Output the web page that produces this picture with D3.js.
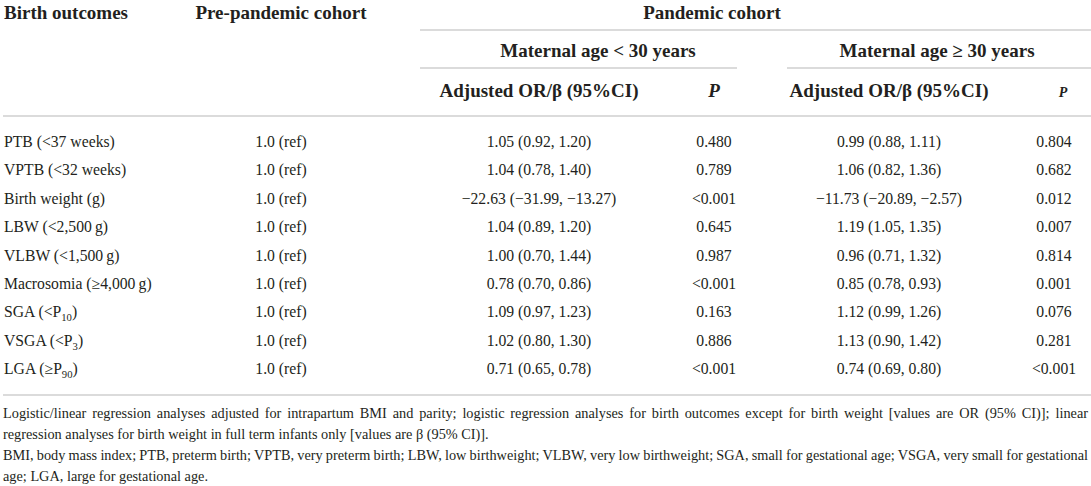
<!DOCTYPE html>
<html>
<head>
<meta charset="utf-8">
<script src="https://cdn.jsdelivr.net/npm/d3@7"></script>
<style>
  body { margin: 0; background: #fff; }
  svg text { font-family: "Liberation Serif", "DejaVu Serif", serif; fill: #231f20; }
</style>
</head>
<body>
<div id="table"></div>
<script>
// table content
const outcomes = [
  "PTB (<37 weeks)", "VPTB (<32 weeks)", "Birth weight (g)",
  "LBW (<2,500\u2009g)", "VLBW (<1,500\u2009g)", "Macrosomia (\u22654,000\u2009g)",
  "SGA (<P_10)", "VSGA (<P_3)", "LGA (\u2265P_90)"
];
const prePandemic = ["1.0 (ref)", "1.0 (ref)", "1.0 (ref)", "1.0 (ref)", "1.0 (ref)",
  "1.0 (ref)", "1.0 (ref)", "1.0 (ref)", "1.0 (ref)"];
const youngEstimate = [
  "1.05 (0.92, 1.20)", "1.04 (0.78, 1.40)", "\u221222.63 (\u221231.99, \u221213.27)",
  "1.04 (0.89, 1.20)", "1.00 (0.70, 1.44)", "0.78 (0.70, 0.86)",
  "1.09 (0.97, 1.23)", "1.02 (0.80, 1.30)", "0.71 (0.65, 0.78)"
];
const youngP = ["0.480", "0.789", "<0.001", "0.645", "0.987", "<0.001", "0.163", "0.886", "<0.001"];
const olderEstimate = [
  "0.99 (0.88, 1.11)", "1.06 (0.82, 1.36)", "\u221211.73 (\u221220.89, \u22122.57)",
  "1.19 (1.05, 1.35)", "0.96 (0.71, 1.32)", "0.85 (0.78, 0.93)",
  "1.12 (0.99, 1.26)", "1.13 (0.90, 1.42)", "0.74 (0.69, 0.80)"
];
const olderP = ["0.804", "0.682", "0.012", "0.007", "0.814", "0.001", "0.076", "0.281", "<0.001"];

const columnKeys = ["outcome", "pre", "youngEst", "youngP", "olderEst", "olderP"];
const headerTop = ["Birth outcomes", "Pre-pandemic cohort"];
const groupTitle = "Pandemic cohort";
const ageGroups = ["Maternal age < 30 years", "Maternal age \u2265 30 years"];
const estimateTitle = "Adjusted OR/\u03b2 (95%CI)";

const footnoteLines = [
  "Logistic/linear regression analyses adjusted for intrapartum BMI and parity; logistic regression analyses for birth outcomes except for birth weight [values are OR (95% CI)]; linear",
  "regression analyses for birth weight in full term infants only [values are \u03b2 (95% CI)].",
  "BMI, body mass index; PTB, preterm birth; VPTB, very preterm birth; LBW, low birthweight; VLBW, very low birthweight; SGA, small for gestational age; VSGA, very small for gestational",
  "age; LGA, large for gestational age."
];
const footnoteJustify = [true, false, true, false];

const W = 1091, H = 486;
const svg = d3.select("#table").append("svg").attr("width", W).attr("height", H);

const colX = d3.scaleOrdinal().domain(columnKeys).range([4, 281, 539, 714, 889, 1054]);
const rowY = d3.scalePoint().domain(d3.range(outcomes.length)).range([147, 374]);
const ruleColor = "#cfcfcf";

function rule(x1, x2, y) {
  svg.append("line").attr("x1", x1).attr("x2", x2).attr("y1", y).attr("y2", y)
    .attr("stroke", ruleColor).attr("stroke-width", 1.6);
}

// add a label with "_nn" subscripts
function richText(sel, str) {
  str.split(/_(\d+)/).forEach((part, i) => {
    if (i % 2) sel.append("tspan").attr("font-size", "0.68em").attr("dy", 4).text(part);
    else sel.append("tspan").attr("dy", i ? -4 : 0).text(part);
  });
}

// header rules
rule(420, W, 30);
rule(420, 737, 68);
rule(787, W, 68);
rule(3, W, 116);
rule(3, W, 395);

// header text
const head = svg.append("g").attr("font-weight", "bold").attr("font-size", 19);
head.append("text").attr("x", colX("outcome")).attr("y", 19).text(headerTop[0]);
head.append("text").attr("x", colX("pre")).attr("y", 19).attr("text-anchor", "middle").text(headerTop[1]);
head.append("text").attr("x", 712).attr("y", 19).attr("text-anchor", "middle").text(groupTitle);
head.append("text").attr("x", 598).attr("y", 57).attr("text-anchor", "middle").text(ageGroups[0]);
head.append("text").attr("x", 937).attr("y", 57).attr("text-anchor", "middle").text(ageGroups[1]);
head.append("text").attr("x", colX("youngEst")).attr("y", 97).attr("text-anchor", "middle").text(estimateTitle);
head.append("text").attr("x", colX("olderEst")).attr("y", 97).attr("text-anchor", "middle").text(estimateTitle);
head.append("text").attr("x", colX("youngP")).attr("y", 97).attr("text-anchor", "middle")
  .attr("font-style", "italic").text("P");
head.append("text").attr("x", 1063).attr("y", 97).attr("text-anchor", "middle")
  .attr("font-style", "italic").attr("font-size", 14).text("P");

// body rows
const rows = outcomes.map((o, i) => ({
  outcome: o, pre: prePandemic[i], youngEst: youngEstimate[i], youngP: youngP[i],
  olderEst: olderEstimate[i], olderP: olderP[i], i: i
}));

const body = svg.append("g").attr("font-size", 15.7);
const rowG = body.selectAll("g.row").data(rows).enter().append("g")
  .attr("class", "row")
  .attr("transform", d => `translate(0, ${rowY(d.i)})`);

rowG.append("text").attr("x", colX("outcome"))
  .each(function(d) { richText(d3.select(this), d.outcome); });

columnKeys.slice(1).forEach(k => {
  rowG.append("text").attr("x", colX(k)).attr("text-anchor", "middle").text(d => d[k]);
});

// footnote, first and third lines justified
const foot = svg.append("g").attr("font-size", 14.3);
foot.selectAll("text").data(footnoteLines).enter().append("text")
  .attr("x", 3)
  .attr("y", (d, i) => 418 + i * 21)
  .text(d => d)
  .each(function(d, i) {
    if (!footnoteJustify[i]) return;
    const natural = this.getComputedTextLength();
    const gaps = d.split(" ").length - 1;
    const extra = (1085 - natural) / gaps;
    d3.select(this).style("word-spacing", extra + "px");
  });
</script>
</body>
</html>
